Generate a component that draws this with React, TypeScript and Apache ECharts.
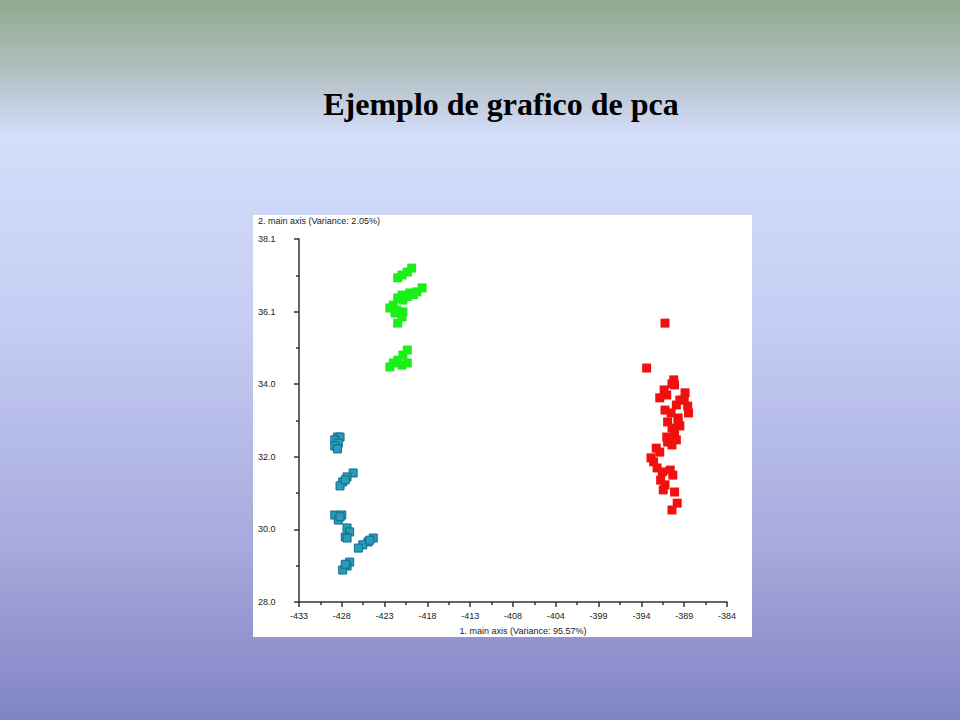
import React, { useEffect, useRef } from "react";
import * as echarts from "echarts";

const titleText = "Ejemplo de grafico de pca";
const xAxisTitle = "1. main axis (Variance: 95.57%)";
const yAxisTitle = "2. main axis (Variance: 2.05%)";

const xTickLabels = ["-433", "-428", "-423", "-418", "-413", "-408", "-404", "-399", "-394", "-389", "-384"];
const yTickLabels = ["28.0", "30.0", "32.0", "34.0", "36.1", "38.1"];
const xMin = -433;
const xStep = 4.9;
const yMin = 28.0;
const yStep = 2.02;

const redX = [-391.1, -393.2, -390.1, -390.3, -391.2, -390.9, -388.8, -389.4, -388.5, -388.4, -389.8, -391.1, -390.4, -389.6, -390.8, -389.4, -390.3, -390.0, -390.9, -390.3, -392.1, -391.7, -392.7, -392.4, -392.0, -391.4, -390.5, -390.2, -391.6, -391.1, -391.3, -390.0, -389.7, -390.3, -390.8, -389.8, -389.6, -388.9, -390.0, -391.7];
const redY = [35.76, 34.51, 34.18, 34.07, 33.90, 33.76, 33.82, 33.62, 33.45, 33.26, 33.48, 33.34, 33.26, 33.12, 33.01, 32.90, 32.84, 32.70, 32.59, 32.37, 32.28, 32.17, 32.01, 31.90, 31.73, 31.62, 31.67, 31.53, 31.39, 31.26, 31.12, 31.06, 30.75, 30.56, 32.45, 32.51, 33.01, 33.62, 34.04, 33.68];

const greenX = [-421.2, -420.6, -420.1, -421.7, -418.9, -419.5, -420.3, -421.2, -421.7, -421.1, -422.2, -422.6, -421.8, -421.1, -421.2, -421.7, -422.0, -420.6, -419.9, -420.6, -421.1, -421.7, -422.2, -422.6, -420.6, -421.2];
const greenY = [37.10, 37.18, 37.29, 37.02, 36.74, 36.63, 36.60, 36.54, 36.46, 36.40, 36.26, 36.18, 36.12, 36.07, 35.93, 35.76, 36.04, 36.50, 36.55, 35.01, 34.87, 34.73, 34.65, 34.54, 34.65, 34.59];

const tealX = [-428.6, -428.3, -428.9, -428.5, -428.9, -428.6, -426.8, -427.5, -428.0, -428.3, -427.7, -428.9, -428.1, -428.5, -428.3, -427.5, -427.2, -427.7, -427.5, -424.5, -425.1, -425.7, -426.2, -424.9, -427.2, -427.5, -428.0, -427.7];
const tealY = [32.59, 32.59, 32.51, 32.42, 32.34, 32.26, 31.59, 31.48, 31.34, 31.23, 31.40, 30.42, 30.42, 30.28, 30.37, 30.06, 29.95, 29.81, 29.78, 29.78, 29.67, 29.59, 29.50, 29.72, 29.11, 29.00, 28.89, 29.05];

const zip = (xs: number[], ys: number[]) => xs.map((x, i) => [x, ys[i]]);

export default function App() {
  const ref = useRef<HTMLDivElement>(null);
  useEffect(() => {
    document.body.style.margin = "0";
    if (!ref.current) return;
    const chart = echarts.init(ref.current, null, { renderer: "svg" });
    const labelFont = { fontFamily: "Liberation Sans", fontSize: 9, color: "#222" };
    chart.setOption({
      animation: false,
      backgroundColor: {
        type: "linear",
        x: 0, y: 0, x2: 0, y2: 1,
        colorStops: [
          { offset: 0, color: "#90a98f" },
          { offset: 0.1, color: "#b2c0c2" },
          { offset: 0.19, color: "#d4ddfb" },
          { offset: 0.45, color: "#c5cdf3" },
          { offset: 0.75, color: "#a7abdd" },
          { offset: 1, color: "#8184c4" },
        ],
      },
      graphic: [
        {
          type: "rect",
          z: -100,
          shape: { x: 253, y: 215, width: 499, height: 422 },
          style: { fill: "#ffffff" },
          silent: true,
        },
        {
          type: "text",
          x: 501,
          y: 104,
          style: {
            text: titleText,
            fill: "#000",
            font: "bold 32px 'Liberation Serif'",
            textAlign: "center",
            textVerticalAlign: "middle",
          },
        },
        {
          type: "text",
          x: 258,
          y: 221,
          style: {
            text: yAxisTitle,
            fill: "#222",
            font: "9px 'Liberation Sans'",
            textAlign: "left",
            textVerticalAlign: "middle",
          },
        },
        {
          type: "text",
          x: 523,
          y: 631,
          style: {
            text: xAxisTitle,
            fill: "#222",
            font: "9px 'Liberation Sans'",
            textAlign: "center",
            textVerticalAlign: "middle",
          },
        },
      ],
      grid: { left: 299, top: 239, width: 428, height: 363, containLabel: false },
      xAxis: {
        type: "value",
        min: xMin,
        max: xMin + xStep * (xTickLabels.length - 1),
        interval: xStep,
        splitLine: { show: false },
        axisLine: { show: true, onZero: false, lineStyle: { color: "#333", width: 1.5 } },
        axisTick: { show: true, length: 5, lineStyle: { color: "#333", width: 1.5 } },
        minorTick: { show: true, splitNumber: 2, length: 3, lineStyle: { color: "#333", width: 1.5 } },
        axisLabel: {
          ...labelFont,
          margin: 9,
          formatter: (v: number) => xTickLabels[Math.round((v - xMin) / xStep)] ?? "",
        },
      },
      yAxis: {
        type: "value",
        min: yMin,
        max: yMin + yStep * (yTickLabels.length - 1),
        interval: yStep,
        splitLine: { show: false },
        axisLine: { show: true, onZero: false, lineStyle: { color: "#333", width: 1.5 } },
        axisTick: { show: true, length: 5, lineStyle: { color: "#333", width: 1.5 } },
        minorTick: { show: true, splitNumber: 2, length: 3, lineStyle: { color: "#333", width: 1.5 } },
        axisLabel: {
          ...labelFont,
          margin: 41,
          align: "left",
          formatter: (v: number) => yTickLabels[Math.round((v - yMin) / yStep)] ?? "",
        },
      },
      series: [
        {
          type: "scatter",
          symbol: "rect",
          symbolSize: 9,
          data: zip(redX, redY),
          itemStyle: { color: "#f01010", opacity: 1 },
        },
        {
          type: "scatter",
          symbol: "rect",
          symbolSize: 9,
          data: zip(greenX, greenY),
          itemStyle: { color: "#19f019", opacity: 1 },
        },
        {
          type: "scatter",
          symbol: "rect",
          symbolSize: 8,
          data: zip(tealX, tealY),
          itemStyle: { color: "#2a9cb8", borderColor: "#0d6d8c", borderWidth: 1, opacity: 1 },
        },
      ],
    });
    return () => chart.dispose();
  }, []);
  return <div ref={ref} style={{ width: 960, height: 720 }} />;
}
